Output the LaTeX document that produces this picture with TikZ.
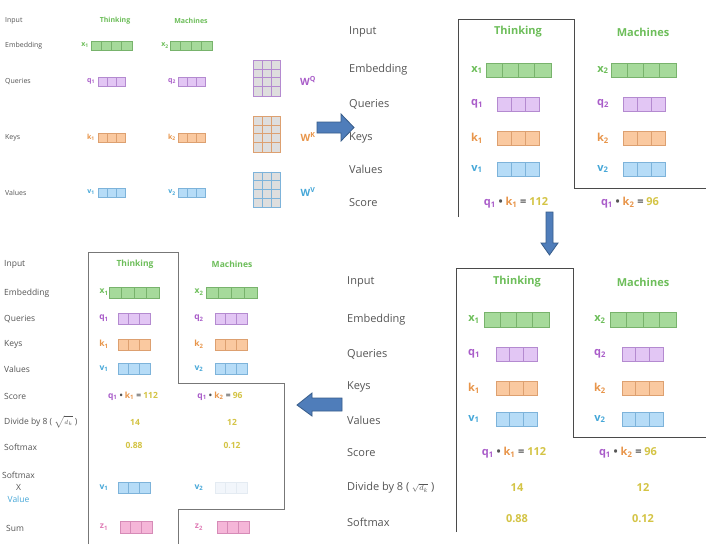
\documentclass[tikz,border=0pt]{standalone}
\usepackage{fontspec}
\setmainfont{Open Sans}
\usepackage{tikz}
\usetikzlibrary{calc}

\definecolor{saText}{HTML}{555555}
\definecolor{saFrame}{HTML}{4A4A4A}
\definecolor{saGreen}{HTML}{6DBE5A}
\definecolor{saLightGreen}{HTML}{A6DA9B}
\definecolor{saGreenLine}{HTML}{78B36C}
\definecolor{saPurple}{HTML}{A95CC9}
\definecolor{saLightPurple}{HTML}{E2C6F4}
\definecolor{saPurpleLine}{HTML}{B48AD0}
\definecolor{saOrange}{HTML}{E8954A}
\definecolor{saLightOrange}{HTML}{FAC9A0}
\definecolor{saOrangeLine}{HTML}{DDA070}
\definecolor{saBlue}{HTML}{45A7D8}
\definecolor{saLightBlue}{HTML}{B6DCF7}
\definecolor{saBlueLine}{HTML}{7DB3DA}
\definecolor{saPink}{HTML}{E07DB6}
\definecolor{saLightPink}{HTML}{F5B6D8}
\definecolor{saPinkLine}{HTML}{D68BB7}
\definecolor{saLightFaint}{HTML}{F2F6FB}
\definecolor{saFaintLine}{HTML}{E4EBF2}
\definecolor{saGold}{HTML}{D4C445}
\definecolor{saGrid}{HTML}{DEDEDE}
\definecolor{saArrow}{HTML}{4F7DBA}
\definecolor{saArrowLine}{HTML}{385D8A}

\tikzset{
    saLabel/.style={anchor=west,inner sep=0pt,text=saText},
    saWord/.style={inner sep=0pt,text=saGreen,execute at begin node=\bfseries},
    saSym/.style={inner sep=0pt,execute at begin node=\bfseries},
    saNum/.style={inner sep=0pt,text=saGold,execute at begin node=\bfseries},
    saVec/.style={draw=sa#1Line,fill=saLight#1,line width=0.6pt,inner sep=0pt,anchor=north west},
    saMat/.style={draw=sa#1Line,fill=saGrid,line width=0.6pt,inner sep=0pt,anchor=north west},
    saCell/.style={draw=sa#1Line,line width=0.6pt},
    saFrameLine/.style={draw=saFrame,line width=1pt},
    saBlock/.style={fill=saArrow,draw=saArrowLine,line width=0.8pt,line join=miter}
}

% name, colour, x, y (top), cells, cell width, height
\newcommand{\saVector}[7]{%
    \node[saVec=#2,minimum width=#5*#6,minimum height=#7] (#1) at (#3,#4) {};
    \pgfmathtruncatemacro{\saLast}{#5-1}%
    \foreach \saCut in {1,...,\saLast}
        \draw[saCell=#2] ($(#1.north west)+(\saCut*#6,0)$) -- ($(#1.south west)+(\saCut*#6,0)$);
}
% name, colour, x, y (top)
\newcommand{\saWeight}[4]{%
    \node[saMat=#2,minimum width=27,minimum height=35.5] (#1) at (#3,#4) {};
    \foreach \saCut in {1,2}
        \draw[saCell=#2] ($(#1.north west)+(\saCut*9,0)$) -- ($(#1.south west)+(\saCut*9,0)$);
    \foreach \saCut in {1,2,3}
        \draw[saCell=#2] ($(#1.north west)+(0,\saCut*8.875)$) -- ($(#1.north east)+(0,\saCut*8.875)$);
}
\newcommand{\saScore}[2]{\textcolor{saPurple}{q\textsubscript{1}} \textcolor{saText}{\textbullet}
    \textcolor{saOrange}{k\textsubscript{#1}} \textcolor{saText}{=} \textcolor{saGold}{#2}}

\begin{document}
\begin{tikzpicture}[x=1pt,y=-1pt,font=\fontsize{11}{13}\selectfont]
    \fill[white] (0,0) rectangle (706,544);
    \useasboundingbox (0,0) rectangle (706,544);

    % weights
    \begin{scope}[font=\fontsize{7}{8.4}\selectfont]
        \node[saLabel] (aInput) at (5,21) {Input};
        \node[saLabel] (aEmb) at (5,45.5) {Embedding};
        \node[saLabel] (aQue) at (5,81.5) {Queries};
        \node[saLabel] (aKey) at (5,137.5) {Keys};
        \node[saLabel] (aVal) at (5,192.5) {Values};
        \node[saWord] (aThink) at (115,21) {Thinking};
        \node[saWord] (aMach) at (191,21) {Machines};

        \node[saSym,text=saGreen] (aX1) at (85,45.5) {x\textsubscript{1}};
        \saVector{aX1v}{Green}{91}{41}{4}{10.25}{9}
        \node[saSym,text=saGreen] (aX2) at (165,45.5) {x\textsubscript{2}};
        \saVector{aX2v}{Green}{170}{41}{4}{10.5}{9}
        \foreach \sym/\col/\yy in {q/Purple/77,k/Orange/133,v/Blue/188} {
            \node[saSym,text=sa\col] (a\sym1) at (91,\yy+4.5) {\sym\textsubscript{1}};
            \saVector{a\sym1v}{\col}{98}{\yy}{3}{9}{9}
            \node[saSym,text=sa\col] (a\sym2) at (172,\yy+4.5) {\sym\textsubscript{2}};
            \saVector{a\sym2v}{\col}{178}{\yy}{3}{9}{9}
        }
        \saWeight{aWQ}{Purple}{253}{60}
        \saWeight{aWK}{Orange}{253}{116}
        \saWeight{aWV}{Blue}{253}{171.5}
    \end{scope}
    \begin{scope}[font=\fontsize{10}{12}\selectfont]
        \node[saSym,text=saPurple] (aWQl) at (308,81) {W\textsuperscript{Q}};
        \node[saSym,text=saOrange] (aWKl) at (308,137) {W\textsuperscript{K}};
        \node[saSym,text=saBlue] (aWVl) at (308,192) {W\textsuperscript{V}};
    \end{scope}

    % score
    \node[saLabel] (bInput) at (349,32) {Input};
    \node[saLabel] (bEmb) at (349,70) {Embedding};
    \node[saLabel] (bQue) at (349,104) {Queries};
    \node[saLabel] (bKey) at (349,137.5) {Keys};
    \node[saLabel] (bVal) at (349,169) {Values};
    \node[saLabel] (bScore) at (349,203) {Score};
    \draw[saFrameLine] (458,217) -- (458,19) -- (574,19) -- (574,188) -- (706,188);
    \node[saWord] (bThink) at (518,32) {Thinking};
    \node[saWord] (bMach) at (643,32) {Machines};
    \node[saSym,text=saGreen] (bX1) at (477,70) {x\textsubscript{1}};
    \saVector{bX1v}{Green}{486}{63}{4}{16.25}{14}
    \node[saSym,text=saGreen] (bX2) at (603,70) {x\textsubscript{2}};
    \saVector{bX2v}{Green}{611}{63}{4}{16.25}{14}
    \foreach \sym/\col/\yy in {q/Purple/97,k/Orange/131,v/Blue/162} {
        \node[saSym,text=sa\col] (b\sym1) at (477,\yy+7) {\sym\textsubscript{1}};
        \saVector{b\sym1v}{\col}{497}{\yy}{3}{14}{14}
        \node[saSym,text=sa\col] (b\sym2) at (603,\yy+7) {\sym\textsubscript{2}};
        \saVector{b\sym2v}{\col}{623}{\yy}{3}{14}{14}
    }
    \node[saSym] (bS1) at (516,203) {\saScore{1}{112}};
    \node[saSym] (bS2) at (630,203) {\saScore{2}{96}};

    % divide and softmax
    \node[saLabel] (cInput) at (347,282) {Input};
    \node[saLabel] (cEmb) at (347,320) {Embedding};
    \node[saLabel] (cQue) at (347,354) {Queries};
    \node[saLabel] (cKey) at (347,387) {Keys};
    \node[saLabel] (cVal) at (347,420) {Values};
    \node[saLabel] (cScore) at (347,453) {Score};
    \node[saLabel] (cDiv) at (347,488) {Divide by 8 ( {\fontsize{8}{9}\selectfont$\sqrt{d_k}$} )};
    \node[saLabel] (cSoft) at (347,522) {Softmax};
    \draw[saFrameLine] (456,532) -- (456,268) -- (573,268) -- (573,437) -- (706,437);
    \node[saWord] (cThink) at (517,282) {Thinking};
    \node[saWord] (cMach) at (643,282) {Machines};
    \node[saSym,text=saGreen] (cX1) at (474,319.5) {x\textsubscript{1}};
    \saVector{cX1v}{Green}{484}{312}{4}{16.25}{14.5}
    \node[saSym,text=saGreen] (cX2) at (600,319.5) {x\textsubscript{2}};
    \saVector{cX2v}{Green}{610}{312}{4}{16.5}{14.5}
    \foreach \sym/\col/\yy in {q/Purple/347,k/Orange/381,v/Blue/412} {
        \node[saSym,text=sa\col] (c\sym1) at (474,\yy+7) {\sym\textsubscript{1}};
        \saVector{c\sym1v}{\col}{496}{\yy}{3}{13.75}{14}
        \node[saSym,text=sa\col] (c\sym2) at (600,\yy+7) {\sym\textsubscript{2}};
        \saVector{c\sym2v}{\col}{622}{\yy}{3}{13.75}{14}
    }
    \node[saSym] (cS1) at (514,453) {\saScore{1}{112}};
    \node[saSym] (cS2) at (628,453) {\saScore{2}{96}};
    \node[saNum] (cD1) at (517,488) {14};
    \node[saNum] (cD2) at (643,488) {12};
    \node[saNum] (cP1) at (517,519) {0.88};
    \node[saNum] (cP2) at (643,519) {0.12};

    % weighted sum
    \begin{scope}[font=\fontsize{8.5}{12}\selectfont]
        \node[saLabel] (dInput) at (4,264) {Input};
        \node[saLabel] (dEmb) at (4,293) {Embedding};
        \node[saLabel] (dQue) at (4,319) {Queries};
        \node[saLabel] (dKey) at (4,344) {Keys};
        \node[saLabel] (dVal) at (4,369.5) {Values};
        \node[saLabel] (dScore) at (4,396) {Score};
        \node[saLabel] (dDiv) at (4,422) {Divide by 8 ( {\fontsize{6.5}{7}\selectfont$\sqrt{d_k}$} )};
        \node[saLabel] (dSoft) at (4,447.5) {Softmax};
        \node[inner sep=0pt,align=center,text=saText] (dMul) at (18.5,487)
            {Softmax\\X\\\textcolor{saBlue}{Value}};
        \node[saLabel] (dSum) at (6,528) {Sum};
        \draw[saFrameLine,draw=saText!80,line width=0.8pt] (88,544) -- (88,252) -- (178,252)
            -- (178,383) -- (284,383) -- (284,509) -- (178,509) -- (178,544);
        \node[saWord] (dThink) at (135,264) {Thinking};
        \node[saWord] (dMach) at (232,264) {Machines};
        \node[saSym,text=saGreen] (dX1) at (104,292) {x\textsubscript{1}};
        \saVector{dX1v}{Green}{109}{287}{4}{12.5}{10.5}
        \node[saSym,text=saGreen] (dX2) at (199,292) {x\textsubscript{2}};
        \saVector{dX2v}{Green}{206}{287}{4}{12.75}{10.5}
        \foreach \sym/\col/\yy in {q/Purple/313,k/Orange/339,v/Blue/363} {
            \node[saSym,text=sa\col] (d\sym1) at (104,\yy+5.5) {\sym\textsubscript{1}};
            \saVector{d\sym1v}{\col}{118}{\yy}{3}{10.7}{11}
            \node[saSym,text=sa\col] (d\sym2) at (199,\yy+5.5) {\sym\textsubscript{2}};
            \saVector{d\sym2v}{\col}{215}{\yy}{3}{10.7}{11}
        }
        \node[saSym] (dS1) at (133,396) {\saScore{1}{112}};
        \node[saSym] (dS2) at (220,396) {\saScore{2}{96}};
        \node[saNum] (dD1) at (135,422) {14};
        \node[saNum] (dD2) at (232,422) {12};
        \node[saNum] (dP1) at (134,445) {0.88};
        \node[saNum] (dP2) at (232,445) {0.12};
        \node[saSym,text=saBlue] (dW1) at (104,487.5) {v\textsubscript{1}};
        \saVector{dW1v}{Blue}{118}{482}{3}{10.7}{11}
        \node[saSym,text=saBlue] (dW2) at (199,487.5) {v\textsubscript{2}};
        \saVector{dW2v}{Faint}{215}{482}{3}{10.7}{11}
        \node[saSym,text=saPink] (dZ1) at (104,527) {z\textsubscript{1}};
        \saVector{dZ1v}{Pink}{120}{521}{3}{10.7}{12}
        \node[saSym,text=saPink] (dZ2) at (199,527) {z\textsubscript{2}};
        \saVector{dZ2v}{Pink}{217}{521}{3}{10.7}{12}
    \end{scope}

    % block arrows
    \draw[saBlock] (317,122) -- (341,122) -- (341,114) -- (354,127.5) -- (341,141) -- (341,133) -- (317,133) -- cycle;
    \draw[saBlock] (546,212) -- (553,212) -- (553,243) -- (558,243) -- (549.5,255) -- (541,243) -- (546,243) -- cycle;
    \draw[saBlock] (342,398) -- (312,398) -- (312,393) -- (297,405) -- (312,416) -- (312,411) -- (342,411) -- cycle;
\end{tikzpicture}
\end{document}
